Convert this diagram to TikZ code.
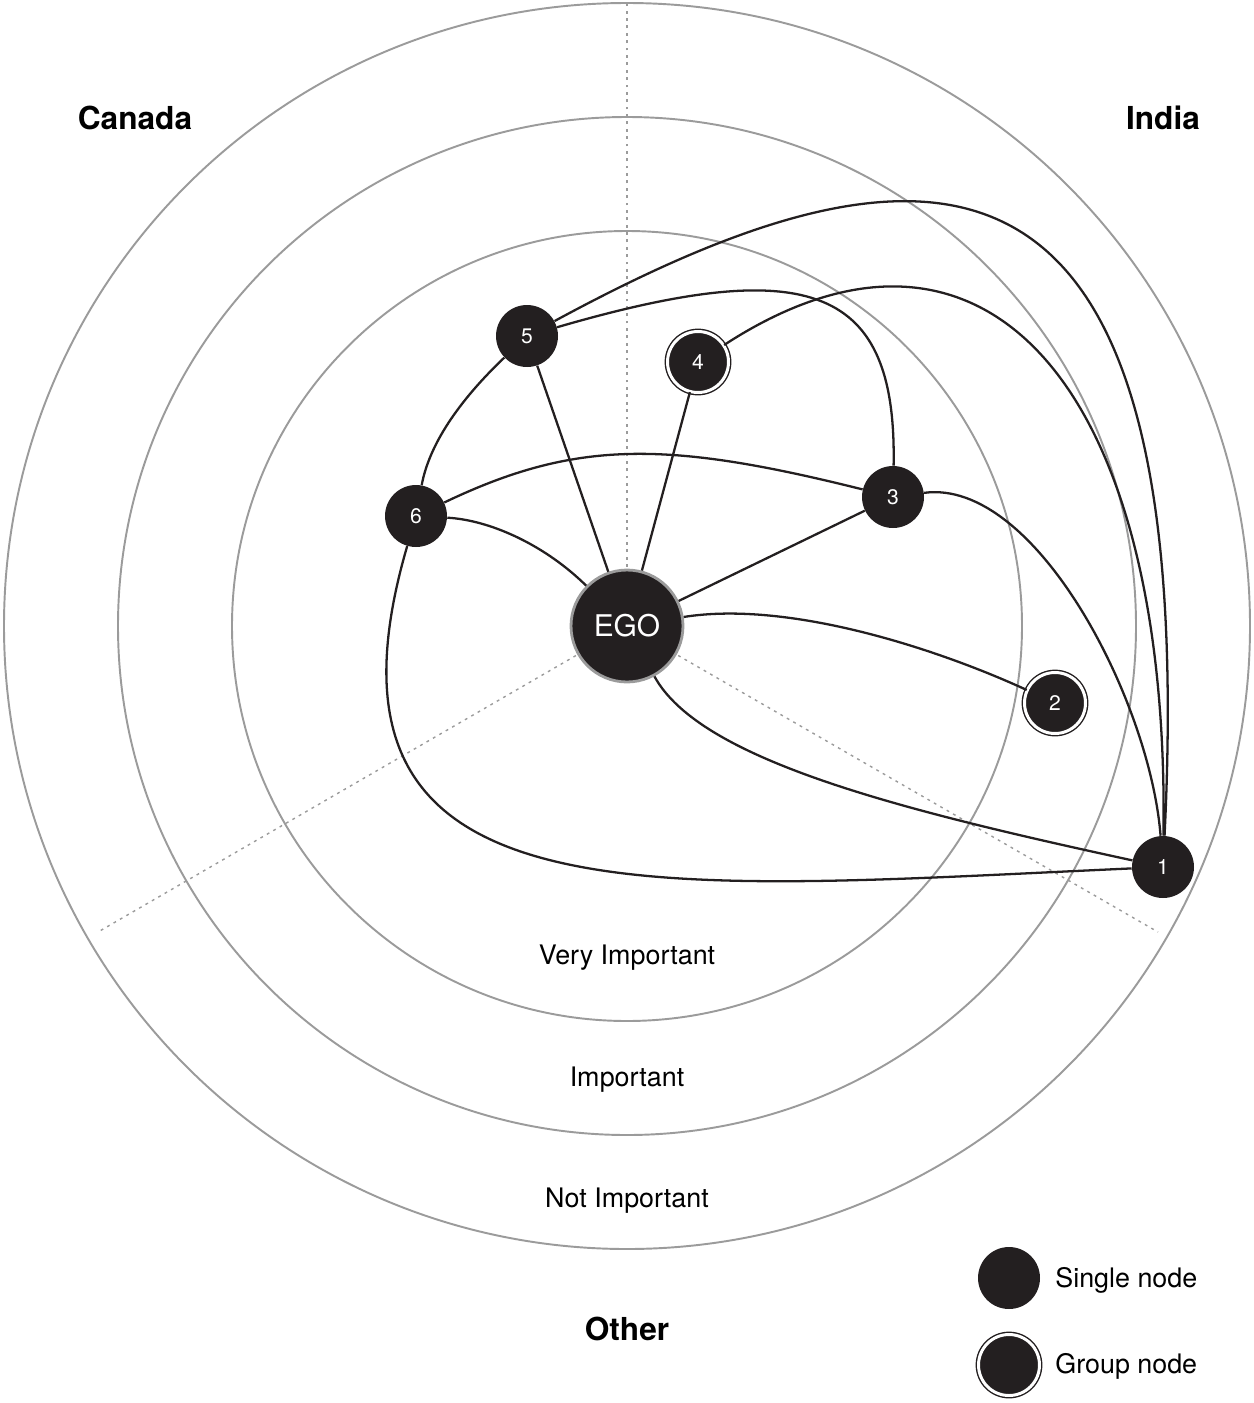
\documentclass[tikz,border=0pt]{standalone}
\usepackage{fontspec}
\setmainfont{TeX Gyre Heros}
\usetikzlibrary{positioning,calc}

\definecolor{nodeblack}{HTML}{231F20}
\definecolor{ringgray}{HTML}{9B9B9B}

\begin{document}
\begin{tikzpicture}[
    x=0.02cm, y=-0.02cm,
    ring/.style={draw=ringgray, line width=1.1pt},
    sector/.style={draw=ringgray, line width=0.8pt, dash pattern=on 1.6pt off 2.6pt},
    single/.style={circle, fill=nodeblack, minimum size=1.24cm, inner sep=0pt, text=white, font=\fontsize{12}{14}\selectfont},
    group/.style={single, draw=nodeblack, line width=0.8pt, double=white, double distance=1.7pt, minimum size=1.22cm},
    ego/.style={circle, fill=nodeblack, draw=ringgray, line width=1.6pt, minimum size=2.24cm, inner sep=0pt, text=white, font=\fontsize{17}{20}\selectfont},
    link/.style={draw=nodeblack, line width=1.3pt},
    country/.style={font=\fontsize{18}{21}\selectfont\bfseries, anchor=base},
    level/.style={font=\fontsize{15.3}{18}\selectfont, anchor=base},
    legend/.style={font=\fontsize{15.3}{18}\selectfont, anchor=base west, inner sep=0pt},
]
\useasboundingbox (0,0) rectangle (1254,1403);

% Rings
\coordinate (c) at (627,626);
\draw[ring] (c) circle[radius=623];
\draw[ring] (c) circle[radius=509];
\draw[ring] (c) circle[radius=395];

% Sectors
\coordinate (topend) at (627,3);
\coordinate (leftend) at (98,932);
\coordinate (rightend) at (1158,932);
\draw[sector] (c) -- (topend);
\draw[sector] (c) -- (leftend);
\draw[sector] (c) -- (rightend);

% Labels
\node[country] (canada) at (135,129) {Canada};
\node[country] (india) at (1163,129) {India};
\node[country] (other) at (627,1340) {Other};
\node[level] (veryimp) at (627,964) {Very Important};
\node[level] (imp) at (627,1086) {Important};
\node[level] (notimp) at (627,1207) {Not Important};

% Nodes
\node[ego] (ego) at (c) {EGO};
\node[single] (n1) at (1163,867) {1};
\node[group] (n2) at (1055,703) {2};
\node[single] (n3) at (893,497) {3};
\node[group] (n4) at (698,362) {4};
\node[single] (n5) at (527,336) {5};
\node[single] (n6) at (416,516) {6};

% Ties
\draw[link] (n5) -- (ego);
\draw[link] (n4) -- (ego);
\draw[link] (n3) -- (ego);
\draw[link] (n6) .. controls (490,520) and (545,545) .. (ego);
\draw[link] (n5) .. controls (465,395) and (430,440) .. (n6);
\draw[link] (n6) .. controls (575,440) and (665,440) .. (n3);
\draw[link] (n5) .. controls (812,253) and (897,287) .. (n3);
\draw[link] (n5) .. controls (940,112) and (1200,115) .. (n1);
\draw[link] (n4) .. controls (985,175) and (1170,386) .. (n1);
\draw[link] (n3) .. controls (1035,478) and (1150,700) .. (n1);
\draw[link] (ego) .. controls (790,600) and (940,650) .. (n2);
\draw[link] (ego) .. controls (700,760) and (900,810) .. (n1);
\draw[link] (n6) .. controls (295,930) and (650,890) .. (n1);

% Legend
\node[single] (keysingle) at (1009,1278) {};
\node[group] (keygroup) at (1009,1365) {};
\node[legend] (keysingletext) at (1055,1287) {Single node};
\node[legend] (keygrouptext) at (1055,1373) {Group node};

\end{tikzpicture}
\end{document}
